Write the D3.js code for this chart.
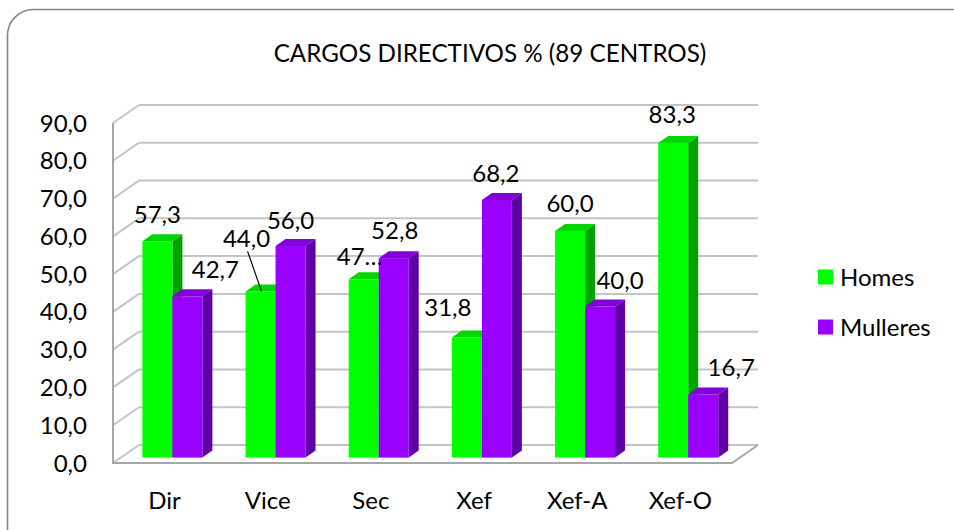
<!DOCTYPE html>
<html>
<head>
<meta charset="utf-8">
<script src="https://cdn.jsdelivr.net/npm/d3@7/dist/d3.min.js"></script>
<style>
  html, body { margin: 0; padding: 0; background: #ffffff; }
  svg { display: block; }
  text { font-family: Lato, "Open Sans", sans-serif; fill: #000; }
</style>
</head>
<body>
<svg id="chart" width="954" height="530"></svg>
<script>
// ---- data ----
const categories = ["Dir", "Vice", "Sec", "Xef", "Xef-A", "Xef-O"];
const homes = [57.3, 44.0, 47.2, 31.8, 60.0, 83.3];
const mulleres = [42.7, 56.0, 52.8, 68.2, 40.0, 16.7];
const seriesNames = ["Homes", "Mulleres"];
const yTicks = [0, 10, 20, 30, 40, 50, 60, 70, 80, 90];
const title = "CARGOS DIRECTIVOS % (89 CENTROS)";

// ---- layout ----
const svg = d3.select("#chart");
const fmt = v => d3.format(".1f")(v).replace(".", ",");
const FS = 24;

const floorLeft = 113, floorRight = 732;
const depthX = 26, depthY = -18;          // 3D offset of the back wall
const barDepthPos = 0.3;                    // where bars stand within floor depth
const barDx = 10, barDy = -7;               // bar thickness in depth
const barW = 30;

const x = d3.scaleBand().domain(categories).range([floorLeft, floorRight]);
const y = d3.scaleLinear().domain([0, 90]).range([463, 123]);

const colors = {
  Homes:    { front: "#00FF00", side: "#00A200", top: "#00D600" },
  Mulleres: { front: "#9900FF", side: "#5E00A6", top: "#8200DA" }
};

// outer border
svg.append("rect")
  .attr("x", 7.5).attr("y", 9.5)
  .attr("width", 980).attr("height", 560)
  .attr("rx", 26).attr("ry", 26)
  .attr("fill", "#fff").attr("stroke", "#858585").attr("stroke-width", 1.6);

// title
svg.append("text")
  .attr("x", 490).attr("y", 62)
  .attr("text-anchor", "middle")
  .style("font-size", "24.2px")
  .text(title);

const grid = svg.append("g");
yTicks.forEach(t => {
  const yf = y(t), ybk = y(t) + depthY;
  grid.append("line")
    .attr("x1", floorLeft + depthX).attr("x2", floorRight + depthX)
    .attr("y1", ybk).attr("y2", ybk)
    .attr("stroke", "#C4C4C4").attr("stroke-width", 2);
  grid.append("line")
    .attr("x1", floorLeft).attr("y1", yf)
    .attr("x2", floorLeft + depthX).attr("y2", ybk)
    .attr("stroke", "#C4C4C4").attr("stroke-width", 2);
});
grid.append("path")
  .attr("d", `M${floorLeft},${y(90)} L${floorLeft},${y(0)} L${floorRight},${y(0)} L${floorRight + depthX},${y(0) + depthY}`)
  .attr("fill", "none").attr("stroke", "#A6A6A6").attr("stroke-width", 2);

// y axis labels
svg.append("g").selectAll("text").data(yTicks).join("text")
  .attr("x", 87).attr("y", d => y(d) + 8.5)
  .attr("text-anchor", "end")
  .style("font-size", FS + "px")
  .text(d => fmt(d));

// category labels
svg.append("g").selectAll("text").data(categories).join("text")
  .attr("x", d => x(d) + x.bandwidth() / 2)
  .attr("y", 508.5)
  .attr("text-anchor", "middle")
  .style("font-size", FS + "px")
  .text(d => d);

// bars
const barData = [];
categories.forEach((c, i) => {
  [homes[i], mulleres[i]].forEach((v, s) => {
    barData.push({ cat: c, ci: i, series: seriesNames[s], si: s, value: v });
  });
});
const bx = d => x(d.cat) + barDepthPos * depthX + (x.bandwidth() - 2 * barW) / 2 + d.si * barW;
const yb = v => y(v) + barDepthPos * depthY;

const bars = svg.append("g");
barData.forEach(d => {
  const x0 = bx(d), x1 = x0 + barW;
  const yTop = yb(d.value), yBot = yb(0);
  const c = colors[d.series];
  const g = bars.append("g");
  g.append("polygon")
    .attr("points", [[x1, yTop], [x1 + barDx, yTop + barDy], [x1 + barDx, yBot + barDy], [x1, yBot]].join(" "))
    .attr("fill", c.side);
  g.append("polygon")
    .attr("points", [[x0, yTop], [x1, yTop], [x1 + barDx, yTop + barDy], [x0 + barDx, yTop + barDy]].join(" "))
    .attr("fill", c.top);
  g.append("rect")
    .attr("x", x0).attr("y", yTop).attr("width", barW).attr("height", yBot - yTop)
    .attr("fill", c.front);
});

// data labels (Excel labels, some moved by hand in the original)
const labelNudge = {
  "Dir|Mulleres": [28, 0],
  "Vice|Homes": [-14, -26],
  "Vice|Mulleres": [0, 1],
  "Sec|Homes": [-4, 4],
  "Sec|Mulleres": [1, -1],
  "Xef|Homes": [-19, -3],
  "Xef|Mulleres": [-1, 1],
  "Xef-A|Mulleres": [20, 1.5],
  "Xef-O|Homes": [-1, -1],
  "Xef-O|Mulleres": [28, -0.5]
};
const labelText = d => (d.cat === "Sec" && d.series === "Homes") ? "47\u2026" : fmt(d.value);
const labels = svg.append("g");
barData.forEach(d => {
  const n = labelNudge[d.cat + "|" + d.series] || [0, 0];
  const cx = bx(d) + barW / 2 + n[0];
  const cy = yb(d.value) - 27 + n[1];
  if (d.cat === "Vice" && d.series === "Homes") {
    labels.append("line")
      .attr("x1", cx + 1).attr("y1", cy + 13)
      .attr("x2", bx(d) + barW / 2 + 1).attr("y2", yb(d.value))
      .attr("stroke", "#000").attr("stroke-width", 1.2);
  }
  labels.append("text")
    .attr("x", cx).attr("y", cy + 8.5)
    .attr("text-anchor", "middle")
    .style("font-size", FS + "px")
    .text(labelText(d));
});

// legend
const legend = svg.append("g");
seriesNames.forEach((s, i) => {
  const ly = 277 + i * 50;
  legend.append("rect")
    .attr("x", 818).attr("y", ly - 7.5).attr("width", 15).attr("height", 15)
    .attr("fill", colors[s].front);
  legend.append("text")
    .attr("x", 840).attr("y", ly + 8.5)
    .style("font-size", FS + "px")
    .text(s);
});
</script>
</body>
</html>
